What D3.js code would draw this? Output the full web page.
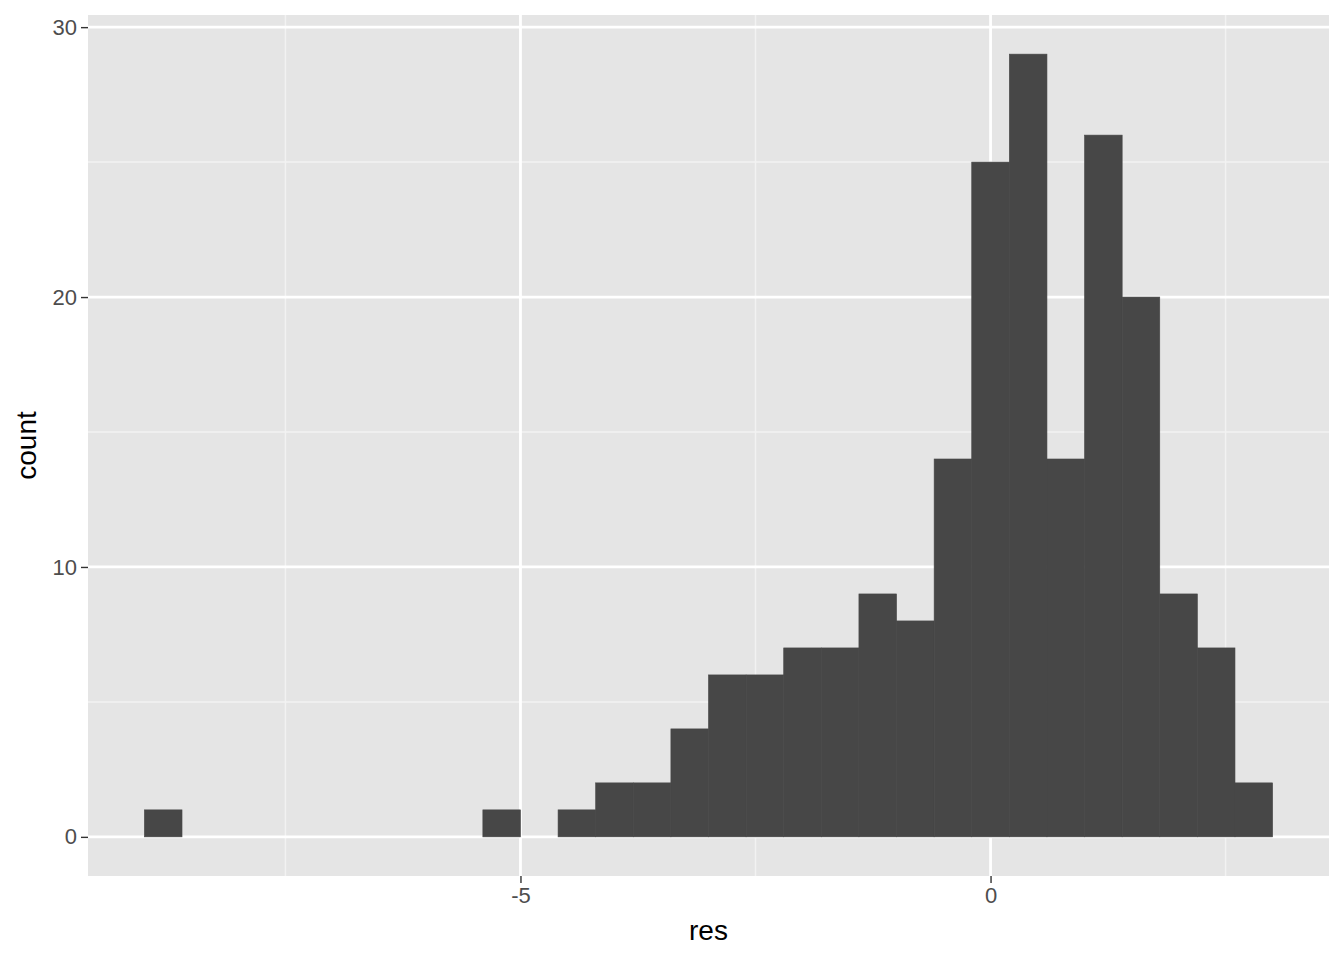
<!DOCTYPE html>
<html>
<head>
<meta charset="utf-8">
<script src="https://cdn.jsdelivr.net/npm/d3@7"></script>
<style>
  body { margin: 0; background: #fff; }
  text { font-family: "Liberation Sans", Arial, sans-serif; }
</style>
</head>
<body>
<script>
var width = 1344;
var height = 960;

// histogram of res, 30 bins
var binStart = -9.0;
var binWidth = 0.4;
var counts = [1, 0, 0, 0, 0, 0, 0, 0, 0, 1,
              0, 1, 2, 2, 4, 6, 6, 7, 7, 9,
              8, 14, 25, 29, 14, 26, 20, 9, 7, 2];
var xBreaks = [-5, 0];
var xMinor = [-7.5, -2.5, 2.5];
var yBreaks = [0, 10, 20, 30];
var yMinor = [5, 15, 25];

var bins = counts.map(function (c, i) {
    return { x0: binStart + i * binWidth, x1: binStart + (i + 1) * binWidth, n: c };
});

var panel = { left: 88, right: 1329, top: 15, bottom: 876 };

var xLo = binStart, xHi = binStart + counts.length * binWidth;
var xPad = (xHi - xLo) * 0.05;
var x = d3.scaleLinear()
    .domain([xLo - xPad, xHi + xPad])
    .range([panel.left, panel.right]);
var yMax = d3.max(counts);
var y = d3.scaleLinear()
    .domain([-yMax * 0.05, yMax * 1.05])
    .range([panel.bottom, panel.top]);

var svg = d3.select("body")
    .append("svg")
    .attr("width", width)
    .attr("height", height);

svg.append("rect")
    .attr("x", panel.left)
    .attr("y", panel.top)
    .attr("width", panel.right - panel.left)
    .attr("height", panel.bottom - panel.top)
    .style("fill", "#e5e5e5");

var grid = svg.append("g");
grid.selectAll("line.ymin")
    .data(yMinor)
    .enter().append("line")
    .attr("x1", panel.left).attr("x2", panel.right)
    .attr("y1", function (d) { return y(d); })
    .attr("y2", function (d) { return y(d); })
    .style("stroke", "#f2f2f2").style("stroke-width", 1.5);
grid.selectAll("line.xmin")
    .data(xMinor)
    .enter().append("line")
    .attr("y1", panel.top).attr("y2", panel.bottom)
    .attr("x1", function (d) { return x(d); })
    .attr("x2", function (d) { return x(d); })
    .style("stroke", "#f2f2f2").style("stroke-width", 1.5);
grid.selectAll("line.ymaj")
    .data(yBreaks)
    .enter().append("line")
    .attr("x1", panel.left).attr("x2", panel.right)
    .attr("y1", function (d) { return y(d); })
    .attr("y2", function (d) { return y(d); })
    .style("stroke", "#fff").style("stroke-width", 2.8);
grid.selectAll("line.xmaj")
    .data(xBreaks)
    .enter().append("line")
    .attr("y1", panel.top).attr("y2", panel.bottom)
    .attr("x1", function (d) { return x(d); })
    .attr("x2", function (d) { return x(d); })
    .style("stroke", "#fff").style("stroke-width", 2.8);

svg.append("g")
    .selectAll("rect")
    .data(bins.filter(function (b) { return b.n > 0; }))
    .enter().append("rect")
    .attr("x", function (d) { return x(d.x0); })
    .attr("width", function (d) { return x(d.x1) - x(d.x0); })
    .attr("y", function (d) { return y(d.n); })
    .attr("height", function (d) { return y(0) - y(d.n); })
    .style("fill", "#474747")
    .style("stroke", "#474747")
    .style("stroke-width", 0.6);

// axes
var xAxis = svg.append("g")
    .attr("transform", "translate(0," + panel.bottom + ")")
    .call(d3.axisBottom(x).tickValues(xBreaks).tickSize(7).tickPadding(4)
        .tickFormat(function (d) { return d < 0 ? "-" + Math.abs(d) : d; }));
var yAxis = svg.append("g")
    .attr("transform", "translate(" + panel.left + ",0)")
    .call(d3.axisLeft(y).tickValues(yBreaks).tickSize(7).tickPadding(4));
[xAxis, yAxis].forEach(function (a) {
    a.select(".domain").remove();
    a.selectAll(".tick line").style("stroke", "#333").style("stroke-width", 1.4);
    a.selectAll(".tick text")
        .style("fill", "#4d4d4d")
        .style("font-size", "22px")
        .style("font-family", "Liberation Sans, Arial, sans-serif");
});

svg.append("text")
    .attr("x", (panel.left + panel.right) / 2)
    .attr("y", 940)
    .attr("text-anchor", "middle")
    .style("font-size", "28px")
    .style("fill", "#000")
    .text("res");

svg.append("text")
    .attr("transform", "translate(36," + ((panel.top + panel.bottom) / 2) + ") rotate(-90)")
    .attr("text-anchor", "middle")
    .style("font-size", "28px")
    .style("fill", "#000")
    .text("count");
</script>
</body>
</html>
